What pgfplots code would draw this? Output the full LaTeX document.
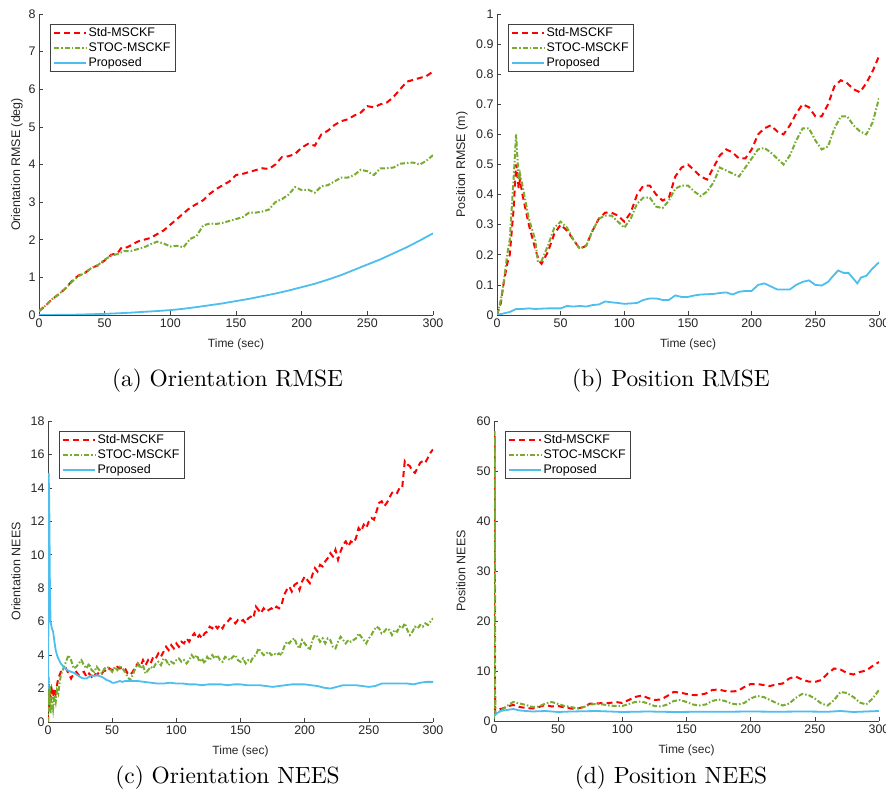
\documentclass[border=0pt]{standalone}
\usepackage{pgfplots}
\pgfplotsset{compat=1.18}
\usepackage{fontspec}
\setsansfont{Liberation Sans}
\newfontfamily\capfont{lmroman10-regular.otf}
\definecolor{mred}{rgb}{1,0,0}
\definecolor{mgreen}{rgb}{0.466,0.674,0.188}
\definecolor{mblue}{rgb}{0.301,0.745,0.933}
\definecolor{axgray}{rgb}{0.25,0.25,0.25}
\pgfplotsset{
  myax/.style={
    scale only axis,
    axis x line*=bottom, axis y line*=left,
    tick align=inside,
    xmin=0, xmax=300, xtick={0,50,...,300},
    axis line style={draw=axgray, line width=0.6bp},
    major tick length=4bp,
    every tick/.style={axgray, line width=0.6bp},
    /pgf/number format/assume math mode=true,
    ticklabel style={font=\fontsize{12.5}{14}\sffamily, text=black!85},
    xlabel={Time (sec)},
    xlabel style={font=\fontsize{12}{14}\sffamily, text=black!85, at={(axis description cs:0.5,0)}, anchor=north, yshift=-20bp},
    ylabel style={font=\fontsize{12.5}{14}\sffamily, text=black!85, anchor=center},
    legend cell align=left,
    legend image code/.code={\draw[##1] (0bp,0bp) -- (32bp,0bp);},
    legend style={at={(0,1)}, anchor=north west, xshift=11bp, yshift=-10bp,
      draw=axgray, line width=0.6bp, fill=white,
      font=\fontsize{12.5}{14}\sffamily, inner xsep=3bp, inner ysep=2bp,
      row sep=2.2bp, nodes={inner sep=1.2bp}},
  },
  stdl/.style={color=mred, line width=2bp, dash pattern=on 6bp off 4bp},
  stocl/.style={color=mgreen, line width=2bp, dash pattern=on 5bp off 2bp on 1.5bp off 2bp},
  propl/.style={color=mblue, line width=1.8bp},
}
\begin{document}
\begin{tikzpicture}
\useasboundingbox (0,0) rectangle (886bp,800bp);

% (a) Orientation RMSE
\begin{axis}[myax, at={(39bp,485bp)}, anchor=south west, width=394bp, height=301bp,
  ymin=0, ymax=8, ytick={0,1,...,8},
  ylabel={Orientation RMSE (deg)},
  ylabel style={at={(axis description cs:-0.056,0.5)}}]
\addplot[stdl] coordinates {(0,0.1) (5,0.25) (10,0.42) (15,0.55) (20,0.7) (25,0.9) (30,1.05) (35,1.12) (40,1.25) (45,1.32) (50,1.45) (55,1.6) (60,1.65) (63,1.8) (67,1.8) (70,1.85) (75,1.95) (80,2.0) (85,2.05) (90,2.15) (95,2.25) (100,2.4) (105,2.55) (110,2.7) (115,2.85) (120,2.95) (125,3.05) (130,3.22) (135,3.35) (140,3.45) (145,3.55) (150,3.72) (155,3.75) (160,3.8) (165,3.85) (170,3.9) (175,3.88) (180,4.0) (185,4.2) (190,4.22) (195,4.28) (200,4.45) (205,4.55) (210,4.5) (215,4.8) (220,4.9) (225,5.05) (230,5.15) (235,5.2) (240,5.3) (245,5.38) (250,5.55) (255,5.52) (260,5.6) (265,5.65) (270,5.8) (275,6.0) (280,6.2) (285,6.25) (290,6.3) (295,6.35) (300,6.47)};
\addlegendentry{Std-MSCKF}
\addplot[stocl] coordinates {(0,0.1) (5,0.25) (10,0.42) (15,0.55) (20,0.7) (25,0.88) (30,1.03) (35,1.12) (40,1.25) (45,1.33) (50,1.47) (55,1.58) (60,1.62) (65,1.7) (70,1.7) (75,1.75) (80,1.8) (85,1.88) (90,1.95) (95,1.9) (100,1.82) (105,1.84) (110,1.8) (115,2.02) (120,2.1) (125,2.38) (130,2.43) (135,2.42) (140,2.45) (145,2.5) (150,2.55) (155,2.6) (160,2.72) (165,2.72) (170,2.75) (175,2.8) (180,3.0) (185,3.08) (190,3.2) (195,3.4) (200,3.32) (205,3.33) (210,3.25) (215,3.42) (220,3.45) (225,3.55) (230,3.65) (235,3.65) (240,3.72) (245,3.86) (250,3.82) (255,3.72) (260,3.9) (265,3.9) (270,3.92) (275,4.02) (280,4.04) (285,4.05) (290,4.0) (295,4.1) (300,4.25)};
\addlegendentry{STOC-MSCKF}
\addplot[propl] coordinates {(0,0) (10,0.002) (20,0.005) (30,0.01) (40,0.02) (50,0.03) (60,0.045) (70,0.062) (80,0.085) (90,0.105) (100,0.13) (110,0.165) (120,0.21) (130,0.26) (140,0.31) (150,0.37) (160,0.43) (170,0.5) (180,0.57) (190,0.65) (200,0.74) (210,0.83) (220,0.94) (230,1.06) (240,1.2) (250,1.34) (260,1.48) (270,1.64) (280,1.8) (290,1.98) (300,2.17)};
\addlegendentry{Proposed}
\end{axis}

% (b) Position RMSE
\begin{axis}[myax, at={(497bp,485bp)}, anchor=south west, width=382bp, height=301bp,
  ymin=0, ymax=1, ytick={0,0.1,...,1.01},
  ylabel={Position RMSE (m)},
  ylabel style={at={(axis description cs:-0.092,0.5)}}]
\addplot[stdl] coordinates {(0,0) (3,0.04) (5,0.1) (8,0.17) (10,0.2) (13,0.35) (15,0.5) (16,0.47) (17,0.42) (18,0.45) (20,0.4) (25,0.3) (30,0.22) (33,0.18) (35,0.17) (40,0.21) (45,0.27) (50,0.3) (55,0.28) (60,0.25) (65,0.22) (70,0.23) (75,0.28) (80,0.32) (85,0.34) (90,0.34) (95,0.33) (100,0.31) (105,0.34) (110,0.4) (115,0.43) (120,0.43) (125,0.4) (130,0.38) (135,0.39) (140,0.46) (145,0.49) (150,0.5) (155,0.48) (160,0.46) (165,0.45) (170,0.49) (175,0.53) (180,0.55) (185,0.54) (190,0.52) (195,0.52) (200,0.55) (205,0.6) (210,0.62) (215,0.63) (220,0.61) (225,0.6) (230,0.63) (235,0.67) (240,0.7) (245,0.69) (250,0.66) (255,0.66) (260,0.7) (265,0.76) (270,0.78) (275,0.77) (280,0.75) (285,0.74) (290,0.77) (295,0.81) (300,0.86)};
\addlegendentry{Std-MSCKF}
\addplot[stocl] coordinates {(0,0) (3,0.05) (5,0.1) (8,0.2) (10,0.25) (13,0.45) (15,0.6) (17,0.45) (18,0.47) (20,0.43) (25,0.32) (30,0.25) (32,0.18) (35,0.18) (40,0.23) (45,0.29) (50,0.31) (55,0.29) (60,0.25) (65,0.22) (70,0.23) (75,0.28) (80,0.32) (85,0.33) (90,0.33) (95,0.31) (100,0.29) (105,0.32) (110,0.37) (115,0.39) (120,0.39) (125,0.36) (130,0.355) (135,0.38) (140,0.42) (145,0.43) (150,0.43) (155,0.41) (160,0.395) (165,0.41) (170,0.44) (175,0.49) (180,0.48) (185,0.47) (190,0.46) (195,0.49) (200,0.52) (205,0.55) (210,0.555) (215,0.54) (220,0.52) (225,0.5) (230,0.53) (235,0.58) (240,0.62) (245,0.62) (250,0.58) (255,0.55) (260,0.56) (265,0.62) (270,0.66) (275,0.66) (280,0.63) (285,0.61) (290,0.6) (295,0.64) (300,0.72)};
\addlegendentry{STOC-MSCKF}
\addplot[propl] coordinates {(0,0) (5,0.005) (10,0.01) (15,0.02) (20,0.02) (25,0.022) (30,0.02) (40,0.022) (50,0.022) (55,0.03) (60,0.028) (65,0.03) (70,0.028) (75,0.033) (80,0.035) (85,0.045) (90,0.042) (95,0.04) (100,0.037) (110,0.04) (115,0.05) (120,0.055) (125,0.055) (130,0.05) (135,0.05) (140,0.065) (145,0.06) (150,0.06) (155,0.065) (160,0.068) (170,0.07) (175,0.073) (180,0.075) (185,0.068) (190,0.077) (195,0.08) (200,0.08) (205,0.1) (210,0.105) (215,0.095) (220,0.085) (225,0.085) (230,0.085) (235,0.1) (240,0.11) (245,0.115) (250,0.1) (255,0.098) (260,0.11) (265,0.135) (268,0.148) (272,0.14) (276,0.14) (280,0.12) (283,0.105) (286,0.125) (290,0.13) (295,0.155) (300,0.175)};
\addlegendentry{Proposed}
\end{axis}

% (c) Orientation NEES
\begin{axis}[myax, at={(48bp,78bp)}, anchor=south west, width=385bp, height=301bp,
  ymin=0, ymax=18, ytick={0,2,...,18},
  ylabel={Orientation NEES},
  ylabel style={at={(axis description cs:-0.083,0.5)}}]
\addplot[stdl] coordinates {(0,0) (0.5,1.5) (1,0.8) (1.5,2.0) (2,1.2) (3,1.9) (4,1.5) (5,2.0) (6,1.7) (7,2.2) (8,2.6) (10,3.0) (12,3.1) (14,3.2) (16,2.9) (18,2.6) (20,2.9) (22,3.0) (24,2.8) (26,2.9) (28,3.0) (30,2.7) (32,2.9) (34,2.7) (36,2.9) (38,2.8) (40,3.0) (42,2.9) (44,3.1) (46,3.0) (48,3.2) (50,3.1) (52,3.2) (54,3.3) (56,3.2) (58,3.3) (60,3.2) (62,2.9) (64,2.8) (66,3.0) (68,3.3) (70,3.5) (72,3.3) (74,3.7) (76,3.4) (78,3.7) (80,3.5) (82,3.9) (84,3.8) (86,4.1) (88,3.9) (90,4.2) (92,4.5) (94,4.3) (96,4.6) (98,4.4) (100,4.7) (102,4.5) (104,4.8) (106,4.7) (108,5.0) (110,4.8) (112,5.1) (114,5.3) (116,5.0) (118,5.2) (120,5.0) (122,5.3) (124,5.4) (126,5.7) (128,5.6) (130,5.8) (132,5.6) (134,5.8) (136,5.6) (138,5.9) (140,6.0) (142,6.2) (144,6.1) (146,5.9) (148,6.1) (150,6.0) (152,6.1) (154,5.9) (156,6.2) (158,6.3) (160,6.2) (162,6.9) (164,6.7) (166,6.5) (168,6.8) (170,6.6) (172,6.7) (174,6.8) (176,6.7) (178,6.9) (180,6.8) (182,7.0) (184,7.6) (186,7.9) (188,8.1) (190,7.8) (192,8.2) (194,8.3) (196,7.9) (198,8.4) (200,8.7) (202,8.5) (204,8.3) (206,8.8) (208,9.2) (210,9.0) (212,9.4) (214,9.3) (216,9.6) (218,9.8) (220,10.1) (222,9.9) (224,10.3) (226,9.7) (228,10.2) (230,10.6) (232,10.8) (234,10.5) (236,10.8) (238,10.7) (240,11.0) (242,11.6) (244,11.4) (246,11.8) (248,11.6) (250,12.0) (252,12.2) (254,12.1) (256,12.6) (258,13.1) (260,13.2) (262,12.9) (264,13.1) (266,13.4) (268,13.7) (270,13.8) (272,13.7) (274,14.0) (276,14.0) (278,15.6) (280,15.4) (282,15.3) (284,15.0) (286,14.9) (288,15.2) (290,15.5) (292,15.6) (294,15.5) (296,15.8) (298,16.1) (300,16.3)};
\addlegendentry{Std-MSCKF}
\addplot[stocl] coordinates {(0,0) (0.5,2.7) (1,1.0) (1.5,2.2) (2,0.5) (3,1.5) (4,0.8) (5,1.6) (6,1.2) (7,1.9) (8,1.7) (9,2.3) (10,2.8) (12,3.2) (14,3.6) (16,4.0) (18,3.7) (20,3.2) (22,3.3) (24,3.5) (26,3.7) (28,3.4) (30,3.2) (32,3.5) (34,3.1) (36,3.0) (38,3.3) (40,3.1) (42,2.9) (44,3.2) (46,3.3) (48,3.2) (50,3.0) (52,3.3) (54,3.1) (56,3.3) (58,3.2) (60,3.0) (62,2.7) (64,2.5) (66,2.8) (68,3.2) (70,3.5) (72,3.2) (74,3.4) (76,2.9) (78,3.1) (80,3.3) (82,3.2) (84,3.5) (86,3.6) (88,3.4) (90,3.8) (92,3.7) (94,3.4) (96,3.6) (98,3.5) (100,3.7) (102,3.8) (104,3.6) (106,3.7) (108,3.5) (110,3.7) (112,4.0) (114,3.8) (116,4.0) (118,3.6) (120,3.8) (122,3.5) (124,3.9) (126,3.7) (128,4.0) (130,3.8) (132,4.0) (134,3.7) (136,3.6) (138,3.9) (140,3.8) (142,3.7) (144,3.9) (146,4.0) (148,3.7) (150,3.6) (152,3.8) (154,3.5) (156,3.7) (158,3.6) (160,3.9) (162,4.0) (164,4.4) (166,4.2) (168,4.0) (170,4.1) (172,4.2) (174,4.0) (176,4.1) (178,4.0) (180,4.1) (182,4.0) (184,4.5) (186,4.8) (188,4.7) (190,4.9) (192,5.0) (194,4.6) (196,4.4) (198,4.9) (200,4.7) (202,4.5) (204,4.3) (206,4.9) (208,5.2) (210,5.1) (212,4.8) (214,5.0) (216,4.7) (218,5.0) (220,4.9) (222,4.5) (224,4.4) (226,4.8) (228,5.1) (230,4.9) (232,4.7) (234,4.9) (236,4.8) (238,4.9) (240,5.0) (242,5.3) (244,5.1) (246,4.9) (248,4.7) (250,5.0) (252,5.2) (254,5.5) (256,5.7) (258,5.6) (260,5.3) (262,5.4) (264,5.6) (266,5.5) (268,5.2) (270,5.5) (272,5.4) (274,5.7) (276,5.6) (278,5.9) (280,5.5) (282,5.2) (284,5.4) (286,5.7) (288,5.6) (290,5.8) (292,5.7) (294,5.9) (296,5.8) (298,6.0) (300,6.2)};
\addlegendentry{STOC-MSCKF}
\addplot[propl] coordinates {(0.2,2) (0.5,14.9) (1,13) (1.5,8) (2,6.0) (3,5.6) (4,5.4) (5,4.8) (6,4.3) (7,4.0) (8,3.8) (10,3.5) (12,3.3) (15,3.1) (18,3.0) (20,2.95) (23,2.8) (26,2.65) (28,2.6) (30,2.6) (32,2.7) (34,2.8) (36,2.75) (38,2.8) (40,2.75) (42,2.7) (44,2.6) (46,2.5) (48,2.45) (50,2.35) (52,2.35) (54,2.4) (56,2.45) (58,2.4) (60,2.45) (65,2.45) (70,2.45) (75,2.4) (80,2.35) (85,2.3) (90,2.3) (95,2.35) (100,2.3) (105,2.3) (110,2.25) (115,2.25) (120,2.2) (125,2.25) (130,2.25) (135,2.25) (140,2.2) (145,2.25) (150,2.25) (155,2.2) (160,2.2) (165,2.2) (170,2.15) (175,2.1) (180,2.15) (185,2.2) (190,2.25) (195,2.25) (200,2.25) (205,2.2) (210,2.15) (215,2.05) (220,2.0) (225,2.1) (230,2.2) (235,2.2) (240,2.2) (245,2.15) (250,2.1) (255,2.15) (260,2.3) (265,2.3) (270,2.3) (275,2.3) (280,2.3) (285,2.25) (290,2.35) (295,2.4) (300,2.4)};
\addlegendentry{Proposed}
\end{axis}

% (d) Position NEES
\begin{axis}[myax, at={(494bp,79bp)}, anchor=south west, width=385bp, height=300bp,
  ymin=0, ymax=60, ytick={0,10,...,60},
  ylabel={Position NEES},
  ylabel style={at={(axis description cs:-0.086,0.5)}}]
\addplot[stdl] coordinates {(0,1) (0.4,57) (0.8,2) (2,2.0) (5,2.4) (8,2.6) (10,2.8) (13,3.1) (15,3.2) (20,2.8) (25,2.6) (30,2.5) (35,2.8) (40,3.2) (45,2.9) (50,3.0) (55,2.7) (60,2.5) (65,2.5) (70,2.8) (75,3.5) (80,3.5) (85,3.6) (90,3.6) (95,3.8) (100,3.6) (105,4.2) (110,4.8) (115,5.1) (120,4.6) (125,4.2) (130,4.3) (135,5.0) (140,5.8) (145,5.7) (150,5.4) (155,5.2) (160,5.2) (165,5.5) (170,6.2) (175,6.3) (180,6.0) (185,5.9) (190,6.0) (195,6.8) (200,7.4) (205,7.4) (210,7.2) (215,7.0) (220,7.3) (225,7.5) (230,8.5) (235,8.9) (240,8.3) (245,7.9) (250,7.8) (255,8.2) (260,9.5) (265,10.5) (270,10.3) (275,9.6) (280,9.3) (285,9.8) (290,10.1) (295,11.0) (300,11.8)};
\addlegendentry{Std-MSCKF}
\addplot[stocl] coordinates {(0,0.5) (0.5,58) (1,1.5) (2,1.5) (5,2.0) (10,3.0) (15,3.8) (20,3.5) (25,3.2) (30,2.8) (35,2.9) (40,3.5) (45,3.8) (50,3.4) (55,3.0) (60,2.8) (65,2.5) (70,2.8) (75,3.3) (80,3.4) (85,3.3) (90,3.1) (95,3.0) (100,3.0) (105,3.4) (110,3.8) (115,3.9) (120,3.5) (125,3.0) (130,2.9) (135,3.3) (140,4.0) (145,4.2) (150,3.8) (155,3.3) (160,3.1) (165,3.3) (170,4.0) (175,4.3) (180,4.0) (185,3.5) (190,3.3) (195,3.6) (200,4.5) (205,5.0) (210,4.8) (215,4.2) (220,3.6) (225,3.1) (230,3.5) (235,4.6) (240,5.4) (245,5.2) (250,4.5) (255,3.5) (260,3.1) (265,4.2) (270,5.8) (275,5.6) (280,4.8) (285,3.7) (290,3.3) (295,4.5) (300,6.2)};
\addlegendentry{STOC-MSCKF}
\addplot[propl] coordinates {(0,1) (2,1.5) (5,2.0) (10,2.2) (15,2.4) (20,2.1) (30,1.9) (40,2.0) (50,1.8) (60,1.9) (80,2.0) (100,1.8) (120,1.9) (140,1.8) (160,1.85) (180,1.85) (200,1.9) (220,1.85) (240,1.9) (260,1.85) (270,2.0) (280,1.8) (300,2.0)};
\addlegendentry{Proposed}
\end{axis}

\node[font=\fontsize{23.5}{28}\capfont, anchor=base] at (227.5bp,413.5bp) {(a) Orientation RMSE};
\node[font=\fontsize{23.5}{28}\capfont, anchor=base] at (671bp,413.5bp) {(b) Position RMSE};
\node[font=\fontsize{23.5}{28}\capfont, anchor=base] at (227.5bp,17bp) {(c) Orientation NEES};
\node[font=\fontsize{23.5}{28}\capfont, anchor=base] at (671bp,17bp) {(d) Position NEES};
\end{tikzpicture}
\end{document}
